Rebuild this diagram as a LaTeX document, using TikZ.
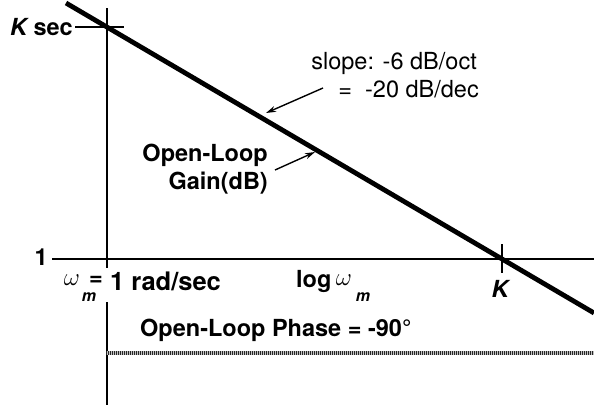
\documentclass[tikz,border=0pt]{standalone}
\usepackage{fontspec}
\setmainfont{TeX Gyre Heros}
\usetikzlibrary{arrows.meta}
\begin{document}
\begin{tikzpicture}[x=1pt,y=-1pt,
  axis/.style={line width=1.6pt},
  gain/.style={line width=4.8pt},
  lbl/.style={inner sep=0pt,font=\fontsize{23.5}{25}\selectfont\bfseries},
  sublbl/.style={inner sep=0pt,font=\fontsize{16}{18}\selectfont\bfseries\itshape},
  rlbl/.style={inner sep=0pt,font=\fontsize{23.5}{25}\selectfont},
  pointer/.style={line width=1.4pt,-{Stealth[length=10pt,width=6pt]}}]
\useasboundingbox (0,0) rectangle (594,407);
% axes
\coordinate (vtop) at (107,8);
\coordinate (vgap1) at (107,268);
\coordinate (vgap2) at (107,302);
\coordinate (vbot) at (107,405);
\draw[axis] (vtop) -- (vgap1);
\draw[axis] (vgap2) -- (vbot);
\coordinate (hl) at (52,259);
\coordinate (hr) at (594,259);
\draw[axis] (hl) -- (hr);
% K sec tick
\coordinate (kt1) at (75,27);
\coordinate (kt2) at (124,27);
\draw[axis] (kt1) -- (kt2);
\node[lbl,anchor=east] (ksec) at (73,27) {\itshape K\upshape\ sec};
% K tick
\coordinate (kk1) at (502,244);
\coordinate (kk2) at (502,273);
\draw[axis] (kk1) -- (kk2);
\node[lbl] (klbl) at (500,289) {\itshape K};
% one
\node[lbl,anchor=east] (one) at (48,257) {1};
% gain line
\coordinate (g1) at (66,3);
\coordinate (g2) at (594,313);
\draw[gain] (g1) -- (g2);
% slope label
\node[rlbl,anchor=east] (slope1) at (477,63) {slope: -6 dB/oct};
\node[rlbl,anchor=east] (slope2) at (479,89) {=\ \ -20 dB/dec};
\coordinate (st) at (266,113);
\draw[pointer] (323,88) -- (st);
% open-loop gain
\node[lbl,anchor=east] (ol1) at (268,155) {Open-Loop};
\node[lbl,anchor=east] (ol2) at (268,183) {Gain(dB)};
\coordinate (gt) at (315,152);
\draw[pointer] (275,170) -- (gt);
% omega labels
\node[lbl] (wm) at (72,280) {\fontsize{24}{26}\selectfont$\omega$};
\node[sublbl] (wmsub) at (89,297) {m};
\node[lbl] (eq) at (96,281) {=};
\node[lbl,anchor=west,font=\fontsize{25.5}{27}\selectfont\bfseries] (rad) at (110,281) {1 rad/sec};
\node[lbl,anchor=west] (logw) at (296,281) {log};
\node[lbl] (lw) at (344,280) {\fontsize{24}{26}\selectfont$\omega$};
\node[sublbl] (lwsub) at (363,297) {m};
% phase
\node[lbl,anchor=west] (phase) at (140,330) {Open-Loop Phase = -90°};
\coordinate (p1) at (106,353);
\coordinate (p2) at (594,353);
\draw[line width=3.5pt,gray!50] (p1) -- (p2);
\draw[line width=3.5pt,black!85,dash pattern=on 0.8pt off 1.2pt] (p1) -- (p2);
\end{tikzpicture}
\end{document}
